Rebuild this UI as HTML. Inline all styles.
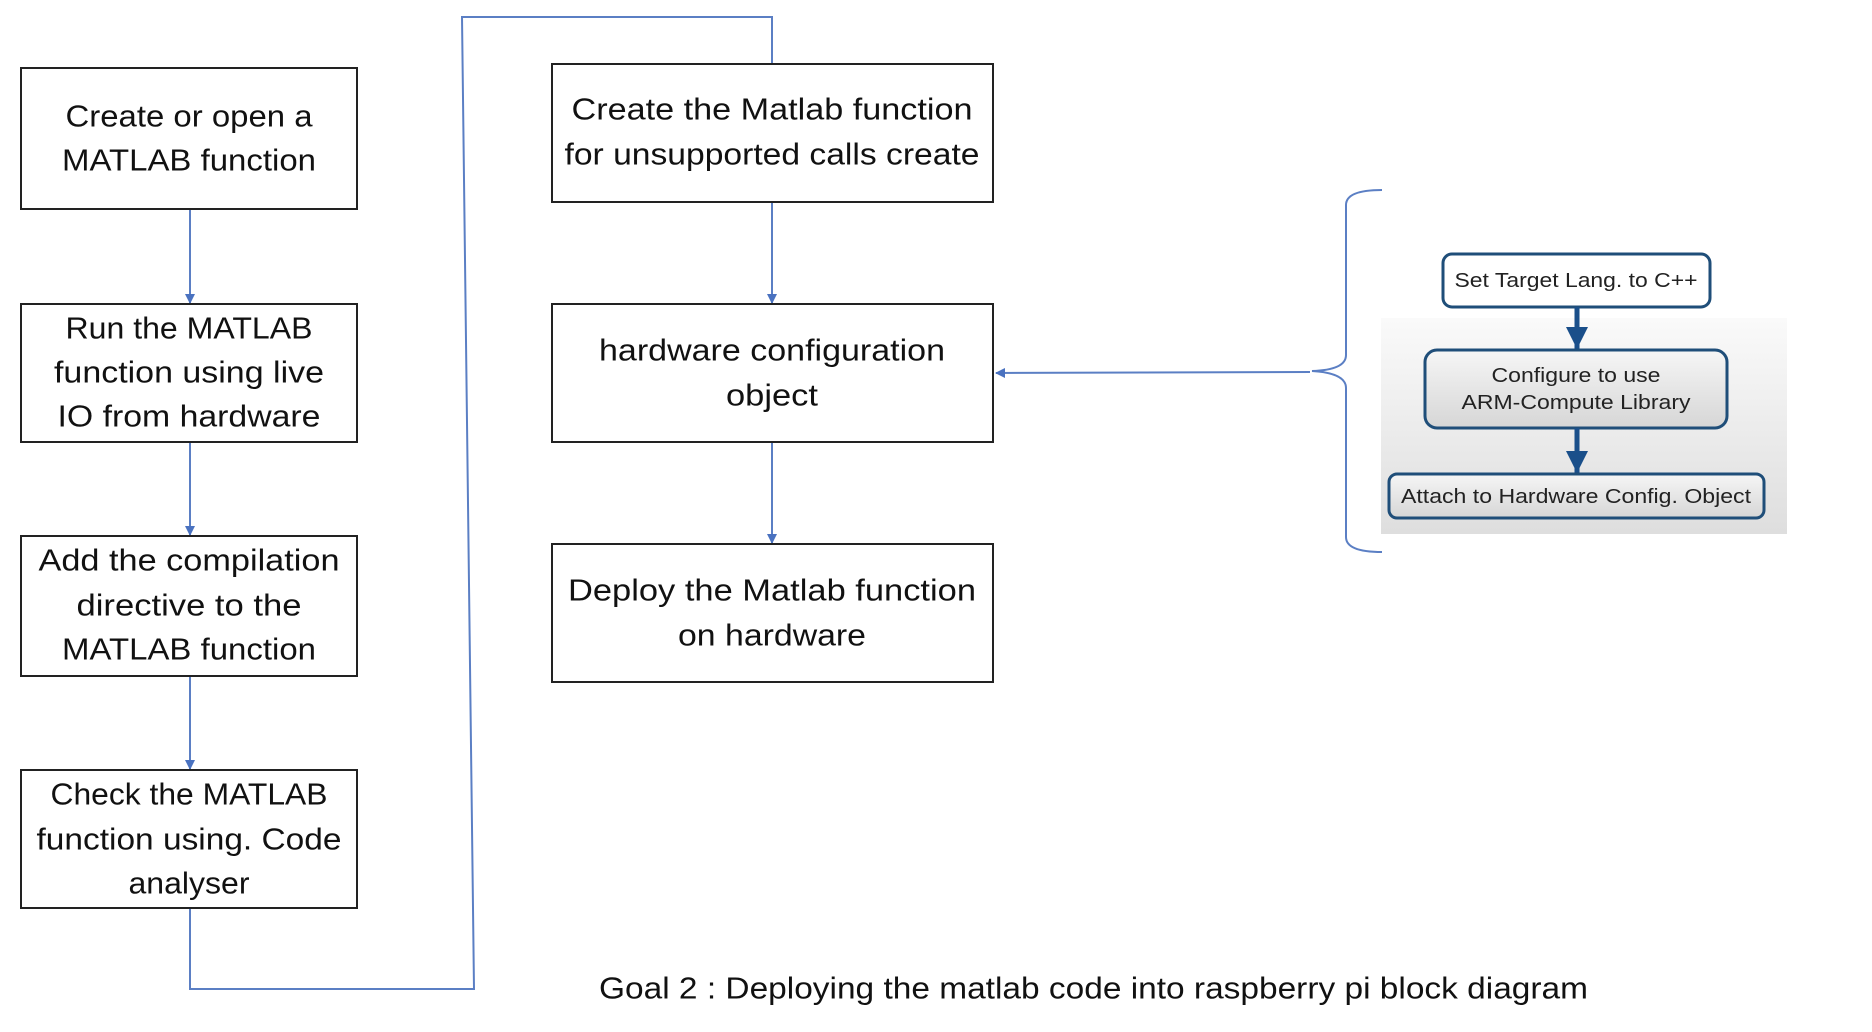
<!DOCTYPE html>
<html><head><meta charset="utf-8"><style>
html,body{margin:0;padding:0;background:#fff;}
svg{display:block;}
.t{font-family:"Liberation Sans",sans-serif;font-size:31px;fill:#111;dominant-baseline:central;}
.r{font-family:"Liberation Sans",sans-serif;font-size:20px;fill:#222;dominant-baseline:central;}
.b{fill:#fff;stroke:#222;stroke-width:2;}
.c{fill:none;stroke:#5b7fc4;stroke-width:2;}
.rb{stroke:#1f4e79;stroke-width:3;}
</style></head><body>
<svg width="1872" height="1032" viewBox="0 0 1872 1032" xmlns="http://www.w3.org/2000/svg">
<defs>
<marker id="a" markerWidth="10" markerHeight="10" refX="9" refY="5" orient="auto" markerUnits="userSpaceOnUse"><path d="M0,0 L10,5 L0,10 z" fill="#4a72c0"/></marker>
<marker id="d" markerWidth="24" markerHeight="22" refX="22" refY="11" orient="auto" markerUnits="userSpaceOnUse"><path d="M0,0 L22,11 L0,22 z" fill="#1a4f8a"/></marker>
<linearGradient id="g" x1="0" y1="0" x2="0" y2="1"><stop offset="0" stop-color="#f6f6f6"/><stop offset="1" stop-color="#d6d6d6"/></linearGradient>
<linearGradient id="bg" x1="0" y1="0" x2="0" y2="1"><stop offset="0" stop-color="#fafafa"/><stop offset="1" stop-color="#dedede"/></linearGradient>
</defs>

<line class="c" x1="190" y1="209" x2="190" y2="303" marker-end="url(#a)"/>
<line class="c" x1="190" y1="442" x2="190" y2="535" marker-end="url(#a)"/>
<line class="c" x1="190" y1="676" x2="190" y2="769" marker-end="url(#a)"/>
<polyline class="c" points="190,908 190,989 474,989 462,17 772,17 772,64"/>
<line class="c" x1="772" y1="202" x2="772" y2="303" marker-end="url(#a)"/>
<line class="c" x1="772" y1="442" x2="772" y2="543" marker-end="url(#a)"/>
<line class="c" x1="1310" y1="372" x2="996" y2="373" marker-end="url(#a)"/>
<path class="c" d="M1382,190 Q1346,190 1346,205 L1346,355 Q1346,370 1312,371 Q1346,373 1346,388 L1346,537 Q1346,552 1382,552"/>

<rect class="b" x="21" y="68" width="336" height="141"/>
<text class="t" x="189" y="116" text-anchor="middle" textLength="247" lengthAdjust="spacingAndGlyphs">Create or open a</text>
<text class="t" x="189" y="160" text-anchor="middle" textLength="254" lengthAdjust="spacingAndGlyphs">MATLAB function</text>

<rect class="b" x="21" y="304" width="336" height="138"/>
<text class="t" x="189" y="328" text-anchor="middle" textLength="247" lengthAdjust="spacingAndGlyphs">Run the MATLAB</text>
<text class="t" x="189" y="372" text-anchor="middle" textLength="270" lengthAdjust="spacingAndGlyphs">function using live</text>
<text class="t" x="189" y="416" text-anchor="middle" textLength="263" lengthAdjust="spacingAndGlyphs">IO from hardware</text>

<rect class="b" x="21" y="536" width="336" height="140"/>
<text class="t" x="189" y="560" text-anchor="middle" textLength="301" lengthAdjust="spacingAndGlyphs">Add the compilation</text>
<text class="t" x="189" y="605" text-anchor="middle" textLength="225" lengthAdjust="spacingAndGlyphs">directive to the</text>
<text class="t" x="189" y="649" text-anchor="middle" textLength="254" lengthAdjust="spacingAndGlyphs">MATLAB function</text>

<rect class="b" x="21" y="770" width="336" height="138"/>
<text class="t" x="189" y="794" text-anchor="middle" textLength="277" lengthAdjust="spacingAndGlyphs">Check the MATLAB</text>
<text class="t" x="189" y="839" text-anchor="middle" textLength="305" lengthAdjust="spacingAndGlyphs">function using. Code</text>
<text class="t" x="189" y="883" text-anchor="middle" textLength="121" lengthAdjust="spacingAndGlyphs">analyser</text>

<rect class="b" x="552" y="64" width="441" height="138"/>
<text class="t" x="772" y="109" text-anchor="middle" textLength="401" lengthAdjust="spacingAndGlyphs">Create the Matlab function</text>
<text class="t" x="772" y="154" text-anchor="middle" textLength="415" lengthAdjust="spacingAndGlyphs">for unsupported calls create</text>

<rect class="b" x="552" y="304" width="441" height="138"/>
<text class="t" x="772" y="350" text-anchor="middle" textLength="346" lengthAdjust="spacingAndGlyphs">hardware configuration</text>
<text class="t" x="772" y="395" text-anchor="middle" textLength="92" lengthAdjust="spacingAndGlyphs">object</text>

<rect class="b" x="552" y="544" width="441" height="138"/>
<text class="t" x="772" y="590" text-anchor="middle" textLength="408" lengthAdjust="spacingAndGlyphs">Deploy the Matlab function</text>
<text class="t" x="772" y="635" text-anchor="middle" textLength="188" lengthAdjust="spacingAndGlyphs">on hardware</text>

<text class="t" x="599" y="988" textLength="989" lengthAdjust="spacingAndGlyphs">Goal 2 : Deploying the matlab code into raspberry pi block diagram</text>

<rect x="1381" y="318" width="406" height="216" fill="url(#bg)"/>
<rect class="rb" x="1443" y="254" width="267" height="53" rx="9" fill="#fff"/>
<text class="r" x="1576" y="281" text-anchor="middle" textLength="243" lengthAdjust="spacingAndGlyphs">Set Target Lang. to C++</text>
<line x1="1577" y1="307" x2="1577" y2="349" stroke="#1a4f8a" stroke-width="5" marker-end="url(#d)"/>
<rect class="rb" x="1425" y="350" width="302" height="78" rx="12" fill="url(#g)"/>
<text class="r" x="1576" y="376" text-anchor="middle" textLength="169" lengthAdjust="spacingAndGlyphs">Configure to use</text>
<text class="r" x="1576" y="403" text-anchor="middle" textLength="229" lengthAdjust="spacingAndGlyphs">ARM-Compute Library</text>
<line x1="1577" y1="428" x2="1577" y2="473" stroke="#1a4f8a" stroke-width="5" marker-end="url(#d)"/>
<rect class="rb" x="1389" y="474" width="375" height="44" rx="8" fill="url(#g)"/>
<text class="r" x="1576" y="497" text-anchor="middle" textLength="350" lengthAdjust="spacingAndGlyphs">Attach to Hardware Config. Object</text>
</svg>
</body></html>
